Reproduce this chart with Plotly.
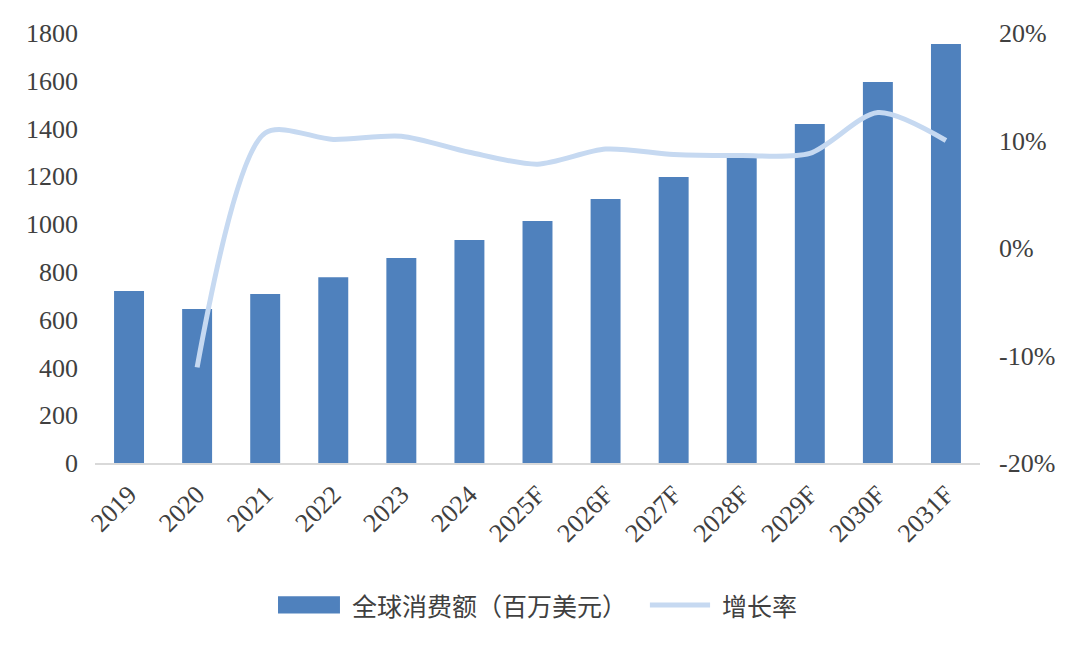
import plotly.graph_objects as go

years = ["2019", "2020", "2021", "2022", "2023", "2024", "2025F", "2026F",
         "2027F", "2028F", "2029F", "2030F", "2031F"]
spend = [720, 645, 707, 778, 858, 933, 1013, 1105, 1197, 1283, 1419, 1595, 1754]
growth_years = years[1:]
growth = [-11.1, 10.7, 10.1, 10.4, 8.9, 7.8, 9.2, 8.7, 8.6, 8.8, 12.6, 10.0]

left_ticks = [0, 200, 400, 600, 800, 1000, 1200, 1400, 1600, 1800]
right_ticks = [-20, -10, 0, 10, 20]
right_labels = ["-20%", "-10%", "0%", "10%", "20%"]

bar_name = "全球消费额（百万美元）"
line_name = "增长率"

bar_color = "#4f81bd"
line_color = "#c6d9f1"
text_color = "#404040"

fig = go.Figure()
fig.add_trace(go.Bar(x=years, y=spend, name=bar_name, marker_color=bar_color,
                     marker_line_width=0, width=0.44, showlegend=False))
fig.add_trace(go.Scatter(x=growth_years, y=[g / 100 for g in growth], name=line_name,
                         yaxis="y2", mode="lines", showlegend=False,
                         line=dict(color=line_color, width=5, shape="spline", smoothing=0.8)))

serif = "Liberation Serif, Times New Roman, serif"
fig.update_layout(
    width=1080, height=648,
    margin=dict(l=87, r=108, t=25, b=193),
    plot_bgcolor="white", paper_bgcolor="white",
    font=dict(family=serif, size=26, color=text_color),
    xaxis=dict(type="category", tickangle=-45, showgrid=False, showline=True,
               linecolor="#d9d9d9", linewidth=2, ticks="", ticklabelstandoff=4,
               tickfont=dict(family=serif, size=26, color=text_color),
               range=[-0.5, 12.5]),
    yaxis=dict(range=[0, 1800], tickvals=left_ticks, showgrid=False, zeroline=False,
               showline=False, ticks="", ticklabelstandoff=16,
               tickfont=dict(family=serif, size=26, color=text_color)),
    yaxis2=dict(range=[-0.2, 0.2], tickvals=[t / 100 for t in right_ticks],
                ticktext=right_labels, overlaying="y", side="right",
                showgrid=False, zeroline=False, showline=False, ticks="",
                ticklabelstandoff=18,
                tickfont=dict(family=serif, size=26, color=text_color)),
    showlegend=False,
)

# manual legend (wide rectangle swatch like the reference)
ly = -0.330
fig.add_shape(type="rect", xref="paper", yref="paper", x0=0.2068, x1=0.2768,
              y0=ly - 0.020, y1=ly + 0.020, fillcolor=bar_color, line_width=0)
fig.add_annotation(xref="paper", yref="paper", x=0.288, y=ly, xanchor="left",
                   yanchor="middle", showarrow=False, text=bar_name,
                   font=dict(family="Noto Sans CJK SC", size=25, color=text_color))
fig.add_shape(type="line", xref="paper", yref="paper", x0=0.627, x1=0.695,
              y0=ly, y1=ly, line=dict(color=line_color, width=5))
fig.add_annotation(xref="paper", yref="paper", x=0.706, y=ly, xanchor="left",
                   yanchor="middle", showarrow=False, text=line_name,
                   font=dict(family="Noto Sans CJK SC", size=25, color=text_color))

fig.write_html("out.html")
